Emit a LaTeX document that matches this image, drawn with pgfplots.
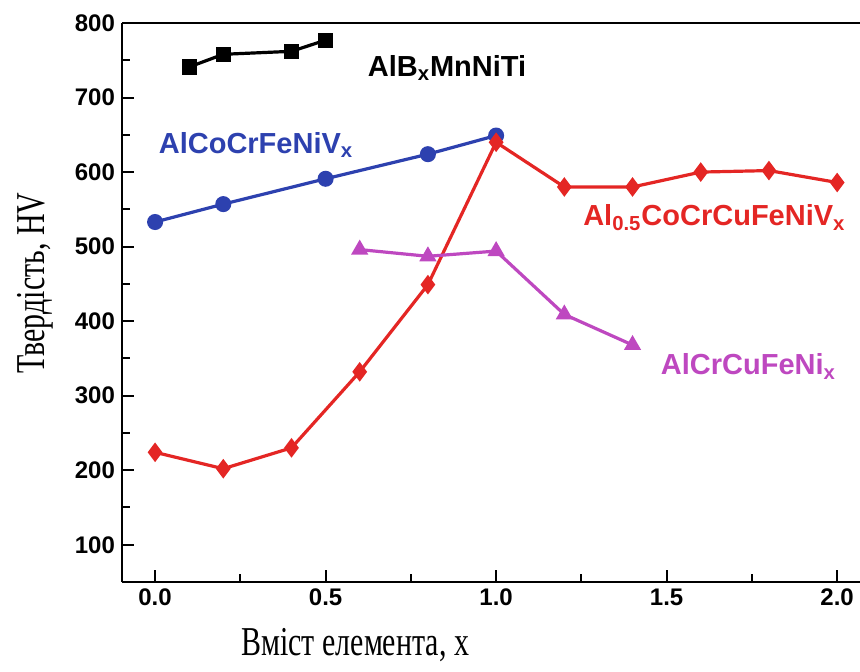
\documentclass[border=0pt]{standalone}
\usepackage{fontspec}
\setmainfont{Liberation Serif}
\setsansfont{Liberation Sans}
\usepackage{graphicx}
\usepackage{pgfplots}
\pgfplotsset{compat=1.18}
\definecolor{cblue}{RGB}{45,65,175}
\definecolor{cred}{RGB}{228,38,36}
\definecolor{cmag}{RGB}{190,72,192}
\begin{document}
\begin{tikzpicture}
\begin{axis}[
  scale only axis,
  width=369pt, height=279.5pt,
  xmin=-0.097, xmax=2.067,
  ymin=50, ymax=800,
  axis x line=box, axis y line=left,
  axis line style={line width=1.1pt, -},
  xtick={0,0.5,1,1.5,2},
  minor xtick={0.25,0.75,1.25,1.75},
  ytick={100,200,...,800},
  minor ytick={150,250,...,750},
  xtick pos=bottom, ytick pos=left,
  tick align=inside,
  major tick length=6pt, minor tick length=4pt,
  tick style={line width=1pt, black},
  xticklabel style={/pgf/number format/fixed, /pgf/number format/fixed zerofill, /pgf/number format/precision=1},
  /pgf/number format/assume math mode=true,
  ticklabel style={font=\sffamily\bfseries\fontsize{12}{14}\selectfont},
  xlabel={\scalebox{0.73}[1]{Вміст елемента, x}},
  ylabel={\scalebox{0.73}[1]{Твердість, HV}},
  label style={font=\fontsize{20.5}{24}\selectfont},
  xlabel style={at={(axis description cs:0.316,-0.113)}, anchor=center},
  ylabel style={at={(axis description cs:-0.118,0.535)}, anchor=center},
  every axis plot/.append style={line width=1.6pt},
  clip=false,
]
\addplot[black, mark=square*, mark size=3pt] coordinates {
  (0.1,741) (0.2,758) (0.4,762) (0.5,777)};
\addplot[cblue, mark=*, mark size=3.2pt] coordinates {
  (0,533) (0.2,557) (0.5,591) (0.8,624) (1.0,649)};
\addplot[cred, mark=diamond*, mark size=3.6pt] coordinates {
  (0,224) (0.2,202) (0.4,230) (0.6,332) (0.8,449) (1.0,640)
  (1.2,580) (1.4,580) (1.6,600) (1.8,602) (2.0,586)};
\addplot[cmag, mark=triangle*, mark size=3.4pt] coordinates {
  (0.6,496) (0.8,487) (1.0,494) (1.2,409) (1.4,368)};
\node[font=\sffamily\bfseries\fontsize{14.5}{16}\selectfont, black] at (axis cs:0.856,740) {AlB\textsubscript{x}MnNiTi};
\node[font=\sffamily\bfseries\fontsize{14.5}{16}\selectfont, cblue] at (axis cs:0.296,636) {AlCoCrFeNiV\textsubscript{x}};
\node[font=\sffamily\bfseries\fontsize{14.5}{16}\selectfont, cred] at (axis cs:1.64,539) {Al\textsubscript{0.5}CoCrCuFeNiV\textsubscript{x}};
\node[font=\sffamily\bfseries\fontsize{14.5}{16}\selectfont, cmag] at (axis cs:1.74,339) {AlCrCuFeNi\textsubscript{x}};
\end{axis}
\pgfresetboundingbox
\path ([shift={(-61pt,-44.5pt)}]current axis.south west) rectangle ++(430pt,335.5pt);
\end{tikzpicture}
\end{document}
